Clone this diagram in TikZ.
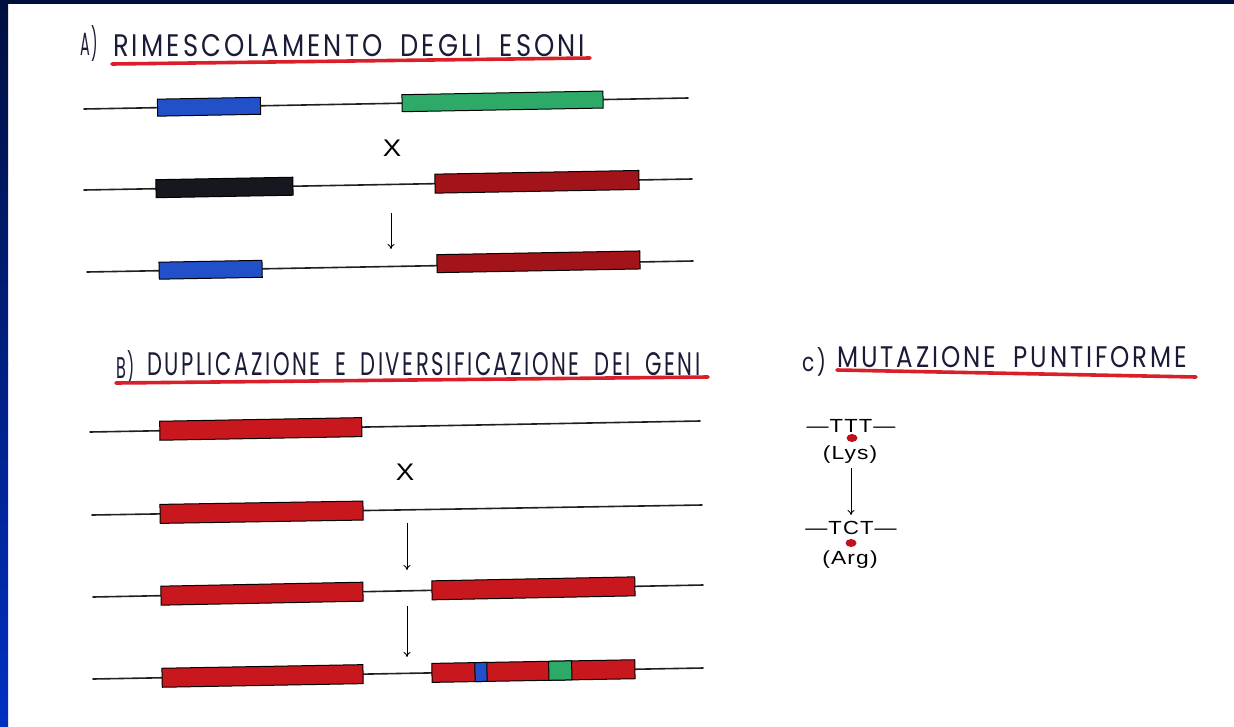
\documentclass[tikz,border=0pt]{standalone}
\usepackage{fontspec}
\setmainfont{Liberation Sans}
\newfontfamily\handfont[LetterSpace=12, WordSpace=1.8]{Poppins}
\newfontfamily\seqfont[LetterSpace=5]{Liberation Sans}
\usetikzlibrary{arrows.meta}

\definecolor{framenavy}{HTML}{000F3E}
\definecolor{framemid}{HTML}{001F82}
\definecolor{framelow}{HTML}{0030C2}
\definecolor{ink}{HTML}{1B1B38}
\definecolor{dnagray}{HTML}{202020}
\definecolor{ulred}{HTML}{D9202A}
\definecolor{exblue}{HTML}{2150C8}
\definecolor{exgreen}{HTML}{2EAA68}
\definecolor{exblack}{HTML}{17171F}
\definecolor{exdark}{HTML}{A3131A}
\definecolor{exred}{HTML}{C8171D}
\definecolor{mutred}{HTML}{C0121C}

\tikzset{
  dna/.style={draw=dnagray, line width=1.6pt, line cap=round},
  exon/.style={draw=black, line width=1pt, sloped, inner sep=0pt, rectangle},
  arr/.style={draw=black, line width=0.9pt, -{To[length=5pt,width=7pt]}},
  uline/.style={draw=ulred, line width=3.6pt, line cap=round},
  hand/.style={inner sep=0pt, text=ink, anchor=south west},
  typed/.style={inner sep=0pt, text=black, font=\seqfont\fontsize{19}{22}\selectfont},
  cross/.style={inner sep=0pt, text=black, font=\fontsize{24}{26}\selectfont},
}

\begin{document}
\begin{tikzpicture}[x=1pt, y=-1pt]
\useasboundingbox (0,0) rectangle (1234,726);
\fill[white] (0,0) rectangle (1234,726);

% slide frame
\fill[framenavy] (0,0) rectangle (1234,4);
\shade[top color=framenavy, bottom color=framemid] (0,0) rectangle (8,363);
\shade[top color=framemid, bottom color=framelow] (0,363) rectangle (8,726);

% ---------------- A) exon shuffling ----------------
\node[hand] (ta0) at (80,62) {\resizebox{18pt}{30pt}{\handfont A)}};
\node[hand] (ta) at (113,57) {\resizebox{472pt}{22pt}{\handfont RIMESCOLAMENTO DEGLI ESONI}};
\coordinate (ua1) at (112,64); \coordinate (ua2) at (590,58);
\draw[uline] (ua1) -- (ua2);

\coordinate (a1l) at (84,109); \coordinate (a1r) at (688,98);
\draw[dna] (a1l) -- (a1r);
\path (a1l) -- (a1r)
  node[exon, pos=0.207, fill=exblue, minimum width=103pt, minimum height=17pt] (a1e1) {}
  node[exon, pos=0.693, fill=exgreen, minimum width=201pt, minimum height=17pt] (a1e2) {};

\node[cross] (ax) at (392,148) {\scalebox{1.15}[1]{X}};

\coordinate (a2l) at (84,190); \coordinate (a2r) at (692,179);
\draw[dna] (a2l) -- (a2r);
\path (a2l) -- (a2r)
  node[exon, pos=0.231, fill=exblack, minimum width=137pt, minimum height=18pt] (a2e1) {}
  node[exon, pos=0.745, fill=exdark, minimum width=204pt, minimum height=19pt] (a2e2) {};

\coordinate (aa1) at (391,213); \coordinate (aa2) at (391,249);
\draw[arr] (aa1) -- (aa2);

\coordinate (a3l) at (87,272); \coordinate (a3r) at (693,261);
\draw[dna] (a3l) -- (a3r);
\path (a3l) -- (a3r)
  node[exon, pos=0.204, fill=exblue, minimum width=103pt, minimum height=17pt] (a3e1) {}
  node[exon, pos=0.745, fill=exdark, minimum width=203pt, minimum height=18pt, yshift=2pt] (a3e2) {};

% ---------------- B) gene duplication ----------------
\node[hand] (tb0) at (116,384) {\resizebox{19pt}{28pt}{\handfont B)}};
\node[hand] (tb) at (147,376) {\resizebox{553pt}{23pt}{\handfont DUPLICAZIONE E DIVERSIFICAZIONE DEI GENI}};
\coordinate (ub1) at (116,383); \coordinate (ub2) at (708,377);
\draw[uline] (ub1) -- (ub2);

\coordinate (b1l) at (90,432); \coordinate (b1r) at (700,421);
\draw[dna] (b1l) -- (b1r);
\path (b1l) -- (b1r)
  node[exon, pos=0.280, fill=exred, minimum width=202pt, minimum height=19pt] (b1e1) {};

\node[cross] (bx) at (405,472) {\scalebox{1.15}[1]{X}};

\coordinate (b2l) at (92,515); \coordinate (b2r) at (702,505);
\draw[dna] (b2l) -- (b2r);
\path (b2l) -- (b2r)
  node[exon, pos=0.278, fill=exred, minimum width=203pt, minimum height=19pt] (b2e1) {};

\coordinate (ba1) at (407,523); \coordinate (ba2) at (407,570);
\draw[arr] (ba1) -- (ba2);

\coordinate (b3l) at (93,597); \coordinate (b3r) at (703,585);
\draw[dna] (b3l) -- (b3r);
\path (b3l) -- (b3r)
  node[exon, pos=0.277, fill=exred, minimum width=202pt, minimum height=19pt] (b3e1) {}
  node[exon, pos=0.722, fill=exred, minimum width=203pt, minimum height=19pt] (b3e2) {};

\coordinate (bb1) at (407,606); \coordinate (bb2) at (407,657);
\draw[arr] (bb1) -- (bb2);

\coordinate (b4l) at (93,679); \coordinate (b4r) at (703,668);
\draw[dna] (b4l) -- (b4r);
\path (b4l) -- (b4r)
  node[exon, pos=0.278, fill=exred, minimum width=201pt, minimum height=19pt] (b4e1) {}
  node[exon, pos=0.722, fill=exred, minimum width=203pt, minimum height=19pt] (b4e2) {}
  node[exon, pos=0.636, fill=exblue, minimum width=12pt, minimum height=19pt] (b4m1) {}
  node[exon, pos=0.766, fill=exgreen, minimum width=23pt, minimum height=19pt] (b4m2) {};

% ---------------- C) point mutation ----------------
\node[hand] (tc0) at (802,376) {\resizebox{24pt}{24pt}{\handfont c)}};
\node[hand] (tc) at (837,368) {\resizebox{350pt}{21pt}{\handfont MUTAZIONE PUNTIFORME}};
\coordinate (uc1) at (837,370); \coordinate (uc2) at (1196,377);
\draw[uline] (uc1) -- (uc2);

\node[typed] (ttt) at (851,426) {\scalebox{1.16}[1]{—TTT—}};
\fill[mutred] (852,438) ellipse [x radius=5.5pt, y radius=4pt];
\node[typed] (lys) at (850,455) {\scalebox{1.2}[1]{(Lys)}};

\coordinate (ca1) at (851,468); \coordinate (ca2) at (851,515);
\draw[arr] (ca1) -- (ca2);

\node[typed] (tct) at (851,528) {\scalebox{1.16}[1]{—TCT—}};
\fill[mutred] (851,543) ellipse [x radius=5.5pt, y radius=4pt];
\node[typed] (arg) at (850,560) {\scalebox{1.2}[1]{(Arg)}};
\end{tikzpicture}
\end{document}
